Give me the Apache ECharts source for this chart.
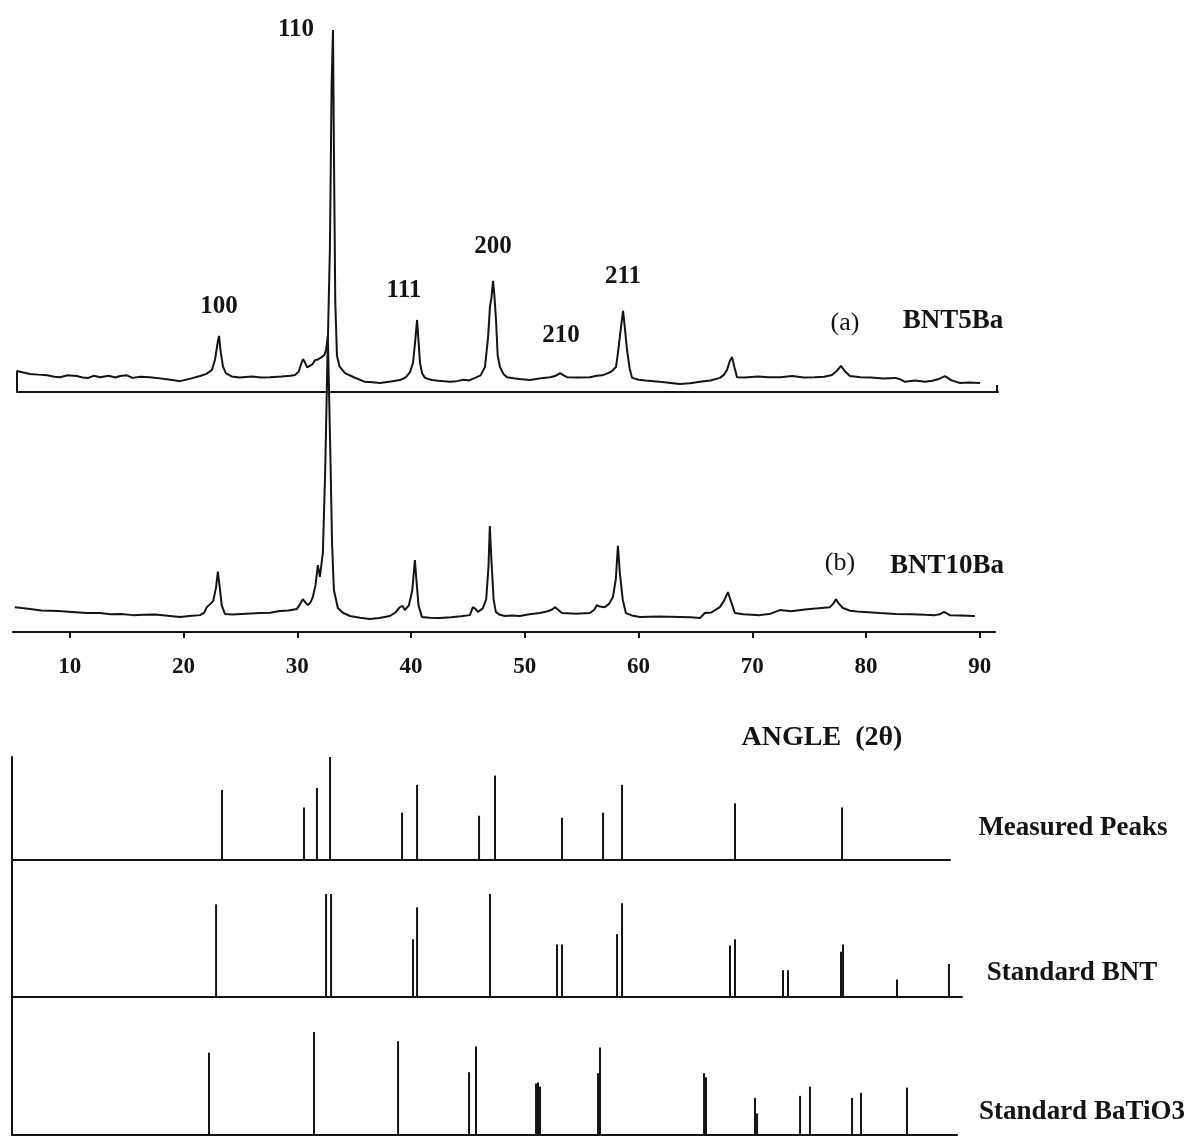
<!DOCTYPE html>
<html>
<head>
<meta charset="utf-8">
<script src="https://cdn.jsdelivr.net/npm/echarts@6.0.0/dist/echarts.min.js"></script>
<style>
html,body{margin:0;padding:0;background:#fff;}
#chart{width:1199px;height:1137px;}
</style>
</head>
<body>
<div id="chart"></div>
<script>
// ---- Data (2θ in degrees, intensity in relative units) ----
// (a) BNT5Ba scan
const scanA_angle = [5.34, 5.34, 5.9, 6.48, 7.2, 8.0, 8.6, 9.12, 9.8, 10.6, 11.1, 11.6, 12.1, 12.64, 13.4, 14.0, 14.40, 15.0, 15.5, 16.2, 17.03, 17.6, 18.3, 19.0, 19.67, 20.6, 21.43, 22.0, 22.48, 22.75, 23.0, 23.10, 23.25, 23.45, 23.7, 24.2, 24.9, 26.0, 26.8, 27.58, 28.6, 29.4, 29.78, 30.1, 30.35, 30.48, 30.65, 30.85, 31.01, 31.3, 31.54, 31.8, 32.15, 32.35, 32.51, 32.68, 32.85, 33.0, 33.12, 33.22, 33.32, 33.47, 33.7, 34.18, 35.0, 35.93, 36.6, 37.25, 38.2, 39.01, 39.5, 39.89, 40.15, 40.33, 40.51, 40.64, 40.77, 40.95, 41.21, 41.8, 42.4, 43.41, 44.0, 44.6, 45.1, 45.60, 46.1, 46.48, 46.75, 46.92, 47.05, 47.19, 47.3, 47.45, 47.6, 47.80, 48.1, 48.42, 49.0, 49.5, 50.44, 51.0, 51.6, 52.2, 52.64, 53.08, 53.4, 53.69, 54.6, 55.71, 56.3, 56.8, 57.3, 57.65, 58.0, 58.18, 58.44, 58.62, 58.8, 58.97, 59.2, 59.41, 60.0, 60.6, 61.3, 61.87, 62.8, 63.63, 64.5, 65.38, 66.3, 67.14, 67.5, 67.76, 68.0, 68.20, 68.4, 68.64, 69.3, 70.5, 71.4, 72.42, 73.5, 74.5, 75.49, 76.3, 76.99, 77.4, 77.78, 78.1, 78.57, 79.5, 80.4, 81.5, 82.53, 83.0, 83.41, 84.3, 85.16, 85.8, 86.4, 86.92, 87.5, 88.24, 89.0, 90.00];
const scanA_int   = [0,    5.8,  5.4, 5.0,  4.8, 4.6, 4.2, 4.1,  4.6, 4.4,  4.0,  3.9,  4.5,  4.1,   4.5,  4.0,  4.4,   4.6,  3.9,  4.2,  4.1,   3.9,  3.6,  3.3,  3.0,   3.7,  4.4,   5.0,  6.1,   9.0,   14.0, 15.5,  11.0,  7.0,   5.2,  4.3,  4.0,  4.3,  4.0,  4.1,   4.3,  4.5,  4.7,   5.6,  8.0,   9.1,   8.2,   6.8,   6.4,   7.6,  8.8,   9.0,  9.7,   10.2,  11.6,  15.7,  40,    85,   100,   60,    25,    10,    7.0,  5.2,   4.0,  2.8,   2.7,  2.5,   2.9,  3.3,   4.0,  5.5,   8.0,   13.5,  19.9,  14.0,  8.0,   5.2,   3.9,   3.3,  3.1,  2.8,   3.0,  3.4,  3.2,  3.9,   4.6,  6.9,   15.0,  23.5,  26.0,  30.7,  27.0, 20.0,  10.0, 6.9,   5.0,  4.1,   3.8,  3.6,  3.3,   3.6,  3.9,  4.1,  4.4,   5.2,   4.6,  4.1,   4.0,  4.1,   4.5,  4.6,  5.2,  5.8,   6.9,  11.0,  18.0,  22.4,  17.0, 11.6,  6.5,  3.9,   3.4,  3.2,  3.0,  2.8,   2.5,  2.2,   2.4,  2.8,   3.2,  3.9,   4.8,  6.1,   8.5,  9.7,   7.0,  4.1,   4.0,  4.3,  4.1,  4.1,   4.4,  4.0,  4.1,   4.2,  4.7,   5.8,  7.2,   5.8,  4.4,   4.1,  4.0,  3.7,  3.9,   3.5,  2.8,   3.2,  2.8,   3.1,  3.6,  4.4,   3.2,  2.5,   2.6,  2.5];

// (b) BNT10Ba scan
const scanB_angle = [5.16, 5.8, 6.48, 7.5, 9.0, 10.5, 11.5, 12.64, 13.6, 14.5, 15.54, 16.5, 17.5, 18.6, 19.67, 20.5, 21.43, 21.8, 22.04, 22.35, 22.6, 22.85, 23.01, 23.15, 23.35, 23.63, 24.3, 25.5, 26.70, 27.6, 28.46, 29.2, 29.96, 30.25, 30.48, 30.7, 30.92, 31.15, 31.36, 31.6, 31.80, 31.98, 32.24, 32.45, 32.68, 32.9, 33.05, 33.21, 33.56, 34.0, 34.62, 35.5, 36.37, 37.2, 38.13, 38.6, 39.01, 39.25, 39.45, 39.8, 40.1, 40.33, 40.5, 40.65, 40.95, 41.6, 42.53, 43.5, 44.4, 45.16, 45.43, 45.65, 45.87, 46.3, 46.6, 46.8, 46.92, 47.05, 47.25, 47.45, 47.8, 48.24, 48.9, 49.56, 50.4, 51.32, 52.0, 52.4, 52.64, 52.9, 53.25, 54.5, 55.71, 56.1, 56.33, 56.6, 57.03, 57.4, 57.74, 58.0, 58.18, 58.35, 58.6, 58.88, 59.4, 60.11, 61.8, 63.63, 64.6, 65.38, 65.82, 66.4, 67.14, 67.5, 67.85, 68.15, 68.46, 69.2, 70.66, 71.6, 72.42, 73.4, 74.6, 75.8, 76.81, 77.1, 77.34, 77.6, 77.96, 78.6, 79.5, 81.21, 82.6, 84.0, 85.2, 86.04, 86.5, 86.84, 87.36, 88.3, 89.56];
const scanB_int   = [8.4,  8.1, 7.8,  7.3, 7.1, 6.7,  6.4,  6.4,   6.0,  6.1,  5.7,   5.8,  5.9,  5.5,  5.1,   5.4,  5.7,   6.5,  8.4,   9.5,  10.5, 15.0,  20.4,  16.0,  9.0,   6.1,   5.9,  6.2,  6.4,   6.5,  7.1,   7.3,  7.8,   9.5,   11.1,  10.0, 9.1,   10.0,  11.8,  16.0, 22.6,  18.6,  26.7,  55,    100,   60,   30,    14.2,  8.1,   6.5,  5.4,   4.8,  4.4,   4.7,  5.4,   6.5,  8.4,   8.8,   7.4,   9.0,  14.0, 24.3,  16.0, 9.0,   5.1,   4.8,  4.7,   5.0,  5.3,  5.7,   8.4,   7.8,   6.8,   8.0,  11.0, 22.0, 35.8,  25.0,  11.0,  6.8,   5.8,  5.4,   5.6,  5.4,   6.0,  6.4,   7.0,  7.6,  8.4,   7.6,  6.4,   6.2,  6.4,   7.5,  9.1,   8.6,  8.4,   9.5,  11.8,  18.0, 29.1,  20.0,  11.0, 6.4,   5.6,  5.1,   5.2,  5.1,   5.0,  4.7,   6.4,   6.6,  8.4,   10.5, 13.5,  10.0,  6.4,   6.0,  5.7,   6.2,  7.4,   7.0,  7.6,  8.0,  8.4,   9.5,  11.1,  9.6,  8.1,   7.2,  6.8,  6.4,   6.1,  6.0,  5.8,  5.7,   6.0,  6.8,   5.7,   5.6,  5.4];

// Stick patterns
const measuredPos = [23.36, 30.57, 31.71, 32.86, 39.19, 40.51, 45.96, 47.36, 53.25, 56.86, 58.53, 68.46, 77.87];
const measuredInt = [68, 51, 70, 100, 46, 73, 43, 82, 41, 46, 73, 55, 51];

const bntPos = [22.84, 32.51, 32.95, 40.15, 40.51, 46.92, 52.81, 53.25, 58.09, 58.53, 68.02, 68.46, 72.68, 73.12, 77.78, 77.96, 82.70, 87.27];
const bntInt = [90, 100, 100, 56, 87, 100, 51, 51, 61, 91, 50, 56, 26, 26, 44, 51, 17, 32];

const batio3Pos = [22.22, 31.45, 38.84, 45.08, 45.69, 50.97, 51.14, 51.32, 56.42, 56.59, 65.74, 65.91, 70.22, 70.40, 74.18, 75.05, 78.75, 79.54, 83.58];
const batio3Int = [80, 100, 91, 61, 86, 50, 51, 47, 60, 85, 60, 56, 36, 21, 38, 47, 36, 41, 46];

// Tick labels of the 2θ axis
const tickValues = [10, 20, 30, 40, 50, 60, 70, 80, 90];

// Miller index labels on pattern (a)
const hklLabels = ['110', '100', '111', '200', '210', '211'];
const hklAngle  = [29.87, 23.10, 39.36, 47.19, 53.16, 58.62];
const hklInt    = [100, 23.5, 27.9, 40.3, 15.5, 31.8];

// ---- Chart ----
const zip = (a, b) => a.map((v, i) => [v, b[i]]);
const INK = '#141414';
const SERIF = '"Liberation Serif", "DejaVu Serif", serif';
const PX_PER_DEG = 11.375;

function hiddenY(idx, max, showLine) {
  return {
    type: 'value', gridIndex: idx, min: 0, max: max,
    axisLine: { show: !!showLine, lineStyle: { color: INK, width: 2 } },
    axisTick: { show: false }, axisLabel: { show: false }, splitLine: { show: false }
  };
}
function xAx(idx, min, width, extra) {
  return Object.assign({
    type: 'value', gridIndex: idx, min: min, max: +(min + width / PX_PER_DEG).toFixed(3),
    axisLine: { show: true, onZero: false, lineStyle: { color: INK, width: 2 } },
    axisTick: { show: false }, axisLabel: { show: false }, splitLine: { show: false }
  }, extra || {});
}

const chart = echarts.init(document.getElementById('chart'), null, { renderer: 'canvas' });

const option = {
  backgroundColor: '#ffffff',
  animation: false,
  grid: [
    { left: 17, top: 30, width: 981, height: 362 },   // (a)
    { left: 13, top: 336, width: 982, height: 296 },  // (b)
    { left: 12, top: 757, width: 938, height: 103 },  // measured
    { left: 12, top: 860, width: 950, height: 137 },  // BNT
    { left: 12, top: 997, width: 945, height: 138 }   // BaTiO3
  ],
  xAxis: [
    xAx(0, 5.34, 981, { axisTick: { show: true, inside: true, length: 7, customValues: [91.5], lineStyle: { color: INK, width: 2 } } }),
    xAx(1, 5.0, 982, {
      axisTick: { show: true, inside: false, length: 6, customValues: tickValues, lineStyle: { color: INK, width: 2 } },
      axisLabel: { show: true, customValues: tickValues, margin: 24, color: INK, fontFamily: SERIF, fontWeight: 'bold', fontSize: 23 }
    }),
    xAx(2, 4.9, 938),
    xAx(3, 4.9, 950),
    xAx(4, 4.9, 945)
  ],
  yAxis: [
    hiddenY(0, 100, false),
    hiddenY(1, 100, false),
    hiddenY(2, 100, true),
    hiddenY(3, 133, true),
    hiddenY(4, 134, true)
  ],
  series: [
    {
      name: 'BNT5Ba', type: 'line', xAxisIndex: 0, yAxisIndex: 0,
      data: zip(scanA_angle, scanA_int), showSymbol: false, clip: false,
      lineStyle: { color: INK, width: 2 }, z: 5
    },
    {
      name: 'BNT10Ba', type: 'line', xAxisIndex: 1, yAxisIndex: 1,
      data: zip(scanB_angle, scanB_int), showSymbol: false, clip: false,
      lineStyle: { color: INK, width: 2 }, z: 5
    },
    {
      name: 'hkl', type: 'scatter', xAxisIndex: 0, yAxisIndex: 0, symbolSize: 1, clip: false,
      itemStyle: { color: 'rgba(0,0,0,0)', opacity: 1 }, z: 10,
      data: hklLabels.map((t, i) => ({ name: t, value: [hklAngle[i], hklInt[i]] })),
      label: { show: true, position: 'inside', formatter: p => p.name, color: INK, opacity: 1, fontFamily: SERIF, fontWeight: 'bold', fontSize: 25 }
    },
    {
      name: 'Measured Peaks', type: 'bar', xAxisIndex: 2, yAxisIndex: 2, barWidth: 2, clip: false,
      data: zip(measuredPos, measuredInt), itemStyle: { color: INK }
    },
    {
      name: 'Standard BNT', type: 'bar', xAxisIndex: 3, yAxisIndex: 3, barWidth: 2, clip: false,
      data: zip(bntPos, bntInt), itemStyle: { color: INK }
    },
    {
      name: 'Standard BaTiO3', type: 'bar', xAxisIndex: 4, yAxisIndex: 4, barWidth: 2, clip: false,
      data: zip(batio3Pos, batio3Int), itemStyle: { color: INK }
    }
  ],
  graphic: [
    { type: 'text', x: 845, y: 323, style: { text: '(a)', fill: INK, font: 'normal 26px ' + SERIF, textAlign: 'center', textVerticalAlign: 'middle' } },
    { type: 'text', x: 953, y: 321, style: { text: 'BNT5Ba', fill: INK, font: 'bold 27px ' + SERIF, textAlign: 'center', textVerticalAlign: 'middle' } },
    { type: 'text', x: 840, y: 563, style: { text: '(b)', fill: INK, font: 'normal 26px ' + SERIF, textAlign: 'center', textVerticalAlign: 'middle' } },
    { type: 'text', x: 947, y: 566, style: { text: 'BNT10Ba', fill: INK, font: 'bold 27px ' + SERIF, textAlign: 'center', textVerticalAlign: 'middle' } },
    { type: 'text', x: 822, y: 738, style: { text: 'ANGLE  (2θ)', fill: INK, font: 'bold 28px ' + SERIF, textAlign: 'center', textVerticalAlign: 'middle' } },
    { type: 'text', x: 1073, y: 828, style: { text: 'Measured Peaks', fill: INK, font: 'bold 27px ' + SERIF, textAlign: 'center', textVerticalAlign: 'middle' } },
    { type: 'text', x: 1072, y: 973, style: { text: 'Standard BNT', fill: INK, font: 'bold 27px ' + SERIF, textAlign: 'center', textVerticalAlign: 'middle' } },
    { type: 'text', x: 1082, y: 1112, style: { text: 'Standard BaTiO3', fill: INK, font: 'bold 27px ' + SERIF, textAlign: 'center', textVerticalAlign: 'middle' } }
  ]
};
chart.setOption(option);
</script>
</body>
</html>
